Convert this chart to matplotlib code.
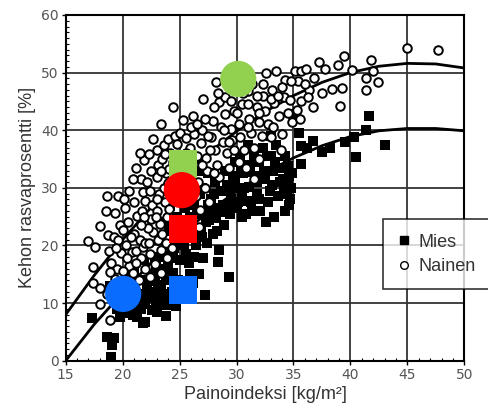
import numpy as np
import matplotlib.pyplot as plt
from matplotlib.lines import Line2D

# --- data ---
# naiset (avoimet ympyrät)
nainen_bmi = [17.0, 17.6, 17.4, 17.4, 18.0, 18.0, 18.6, 19.6, 18.5, 19.3, 18.0, 18.7, 19.2, 19.6, 18.9,
              19.0, 19.5, 19.3, 18.8, 19.9, 19.2, 18.6, 19.8, 19.4, 18.9,
              20.2, 20.5, 20.0, 20.3, 20.8, 20.6, 21.0, 21.3, 21.0, 21.5, 21.2, 20.9, 21.4, 21.8, 21.6,
              21.9, 21.7, 21.9, 21.6, 22.0, 21.8, 20.4, 21.1, 22.1, 22.0, 22.0,
              22.3, 22.5, 22.4, 22.6, 22.5, 22.7, 22.4, 22.8, 23.0, 23.1, 23.0, 23.2, 23.0, 23.3, 23.1,
              23.4, 23.6, 23.5, 23.8, 23.6, 23.7, 23.9, 23.5, 23.8, 23.4, 23.9, 24.0, 24.2, 24.1, 24.0,
              24.3, 24.1, 24.3, 24.4,
              24.6, 24.8, 25.0, 25.3, 26.2, 25.6, 25.9, 26.3, 26.5, 26.2, 26.6, 26.4, 26.8, 26.0, 26.9,
              27.0, 27.1, 27.3, 27.4, 27.2, 27.6, 27.8, 27.9, 28.2, 28.5, 28.1, 28.3, 28.6, 28.8, 28.5,
              29.0, 29.2, 29.3, 29.5, 29.0, 29.6, 29.8, 24.5, 24.7, 26.7,
              30.2, 30.3, 30.5, 30.7, 31.0, 31.1, 31.3, 31.5, 31.4, 31.8, 32.0, 32.2, 32.3, 32.6, 32.5,
              32.8, 33.1, 33.5, 33.0, 33.3, 33.7, 34.0, 34.3, 34.2, 34.5, 34.7, 33.9, 34.9, 30.8, 31.5, 32.0,
              35.1, 35.4, 35.7, 35.7, 36.1, 36.4, 36.7, 37.5, 37.2, 36.8, 37.8, 38.4, 38.9, 39.4, 39.1,
              39.3, 40.1, 41.4, 41.4, 42.0, 42.4, 41.8, 45.0, 47.7, 35.6, 36.3,
              20.1, 20.6, 20.9, 21.2, 21.5, 20.4, 20.7, 21.9, 22.2, 22.9, 22.3, 23.0, 23.4, 23.7, 24.4,
              24.6, 24.7, 26.0, 26.5, 27.2, 27.5, 28.0, 28.4, 28.9, 29.3, 29.5, 30.0, 30.6, 31.0, 31.8,
              32.3, 33.0, 33.6, 34.0, 34.8, 26.0, 27.0, 27.7, 28.0, 25.6, 29.8, 30.2, 31.0, 32.0, 33.2,
              35.3, 36.0, 22.7, 23.4, 20.0, 21.2, 22.4, 21.6]
nainen_rasva = [20.7, 19.8, 16.3, 13.5, 12.6, 9.8, 28.5, 28.5, 25.9, 25.6, 23.3, 21.8, 21.4, 20.9, 7.1,
                17.0, 16.0, 14.2, 19.0, 18.7, 11.0, 11.5, 23.5, 19.6, 15.4,
                26.5, 24.0, 22.6, 20.0, 18.8, 16.5, 27.5, 25.2, 22.0, 21.0, 19.0, 15.3, 14.0, 29.2, 31.5,
                34.8, 26.0, 23.7, 17.8, 16.0, 19.8, 13.7, 12.5, 31.0, 27.8, 20.5,
                35.8, 33.0, 29.5, 27.0, 24.6, 22.3, 18.5, 16.8, 36.6, 34.0, 31.8, 29.0, 26.0, 23.8, 21.0,
                19.2, 37.5, 35.0, 32.5, 30.0, 27.5, 25.0, 22.0, 20.4, 15.3, 17.8, 38.4, 36.0, 33.2, 30.8,
                28.2, 26.4, 19.6, 44.0,
                39.0, 37.6, 39.5, 41.8, 42.5, 38.6, 37.0, 39.4, 35.5, 33.0, 31.0, 28.6, 26.2, 24.8, 37.8,
                40.0, 45.5, 35.2, 33.0, 30.0, 27.6, 38.8, 41.6, 48.4, 44.9, 36.5, 34.0, 40.5, 38.0, 31.8,
                42.8, 36.0, 33.5, 40.2, 45.8, 38.3, 43.4, 24.0, 21.2, 23.2,
                41.0, 38.8, 44.5, 36.6, 46.8, 42.0, 39.5, 37.0, 48.0, 44.0, 41.5, 39.0, 46.0, 50.0, 43.3,
                41.0, 47.0, 50.2, 38.8, 44.8, 42.5, 39.3, 48.7, 45.8, 43.0, 45.3, 36.5, 41.5, 33.5, 31.6, 35.0,
                50.2, 48.5, 45.0, 50.2, 50.6, 47.0, 44.0, 46.4, 51.9, 49.0, 50.7, 47.1, 51.3, 52.9, 44.2,
                47.3, 50.5, 49.0, 47.0, 50.2, 48.4, 52.2, 54.2, 53.9, 42.0, 45.8,
                28.0, 29.5, 31.5, 33.5, 36.0, 17.8, 21.5, 25.0, 23.0, 25.0, 20.5, 28.0, 33.0, 35.8, 34.5,
                32.0, 30.0, 40.5, 41.0, 42.0, 39.0, 44.0, 46.5, 40.0, 38.0, 45.0, 43.0, 46.5, 44.5, 46.0,
                48.0, 45.5, 46.0, 47.5, 48.5, 35.0, 34.0, 36.5, 32.5, 36.0, 36.5, 34.5, 40.5, 43.0, 40.5,
                43.5, 48.0, 38.5, 41.0, 15.5, 17.0, 14.5, 23.5]

# miehet (mustat neliöt)
mies_bmi = [17.3, 18.6, 19.2, 19.0, 19.1, 18.9, 19.5, 20.2, 20.9, 21.8, 19.8, 20.5, 20.8, 19.6, 21.2, 21.0, 20.3,
            21.5, 21.7, 21.9, 22.0, 22.3, 22.5, 22.6, 22.8, 22.9, 23.0, 23.1, 23.2, 23.3, 23.5, 23.6, 23.7,
            23.8, 23.9, 24.0, 24.1, 24.2, 24.3, 24.4, 24.5,
            24.6, 24.8, 25.0, 25.2, 25.5, 25.6, 25.8, 25.9, 26.0, 26.1, 26.3, 26.4, 26.6, 26.7, 26.9, 27.0,
            27.2, 27.2, 27.4, 27.5, 27.6, 27.8, 27.9, 28.0, 28.1, 28.4, 28.5, 28.2, 28.6, 28.8, 29.3,
            29.0, 29.2, 29.4, 29.5, 29.7, 29.9, 30.0, 30.2, 30.3, 30.5, 30.6, 30.8, 31.0, 31.1, 31.3, 31.5,
            31.6, 31.8, 32.0, 32.1, 32.3, 32.5, 32.6, 32.8, 33.0, 33.2, 33.5, 33.8, 34.0, 34.3, 34.4, 34.5,
            34.6, 34.7, 34.5, 34.3, 33.0, 31.0,
            35.0, 35.5, 35.7, 35.7, 36.7, 37.5, 38.2, 40.3, 41.4, 41.6, 40.5, 43.0, 36.2, 39.5,
            21.3, 21.6, 22.0, 22.2, 22.4, 22.7, 22.9, 23.2, 23.4, 23.6, 23.8, 24.0, 24.2, 24.4, 24.6,
            24.0, 23.5, 22.8, 22.1, 24.7, 24.9, 21.4, 20.7, 20.0, 19.9,
            25.1, 25.4, 25.7, 25.9, 26.2, 26.5, 26.8, 27.0, 27.3, 27.5, 27.8, 28.0, 28.3, 28.6, 28.9,
            29.1, 29.4, 29.7, 29.9, 26.0, 25.8, 26.3, 27.1, 25.5, 26.2, 24.8, 25.3,
            30.1, 30.4, 30.7, 30.9, 31.2, 31.5, 31.8, 32.0, 32.4, 32.7, 33.1, 33.4, 33.6, 34.1, 34.6,
            34.8, 34.2, 34.9, 32.9, 33.3, 30.5, 31.4]
mies_rasva = [7.4, 4.2, 3.9, 0.6, 2.8, 13.0, 9.0, 8.2, 7.9, 6.6, 7.5, 10.5, 13.5, 12.2, 9.5, 16.0, 15.0,
              11.5, 14.0, 17.5, 9.8, 12.0, 15.0, 8.8, 18.0, 10.5, 8.5, 13.2, 21.0, 16.0, 11.5, 19.0, 24.0,
              14.0, 9.6, 17.0, 22.5, 26.8, 12.0, 15.2, 19.5,
              28.5, 25.0, 17.5, 31.0, 26.5, 18.5, 21.5, 15.0, 29.0, 24.0, 27.0, 20.0, 33.0, 15.1, 23.0, 30.0,
              11.4, 26.0, 20.5, 32.5, 24.5, 28.0, 22.0, 26.5, 31.0, 17.2, 19.2, 24.8, 29.5, 27.0, 14.6,
              33.0, 30.5, 25.5, 28.0, 32.0, 34.5, 26.5, 30.0, 35.5, 28.5, 32.5, 25.5, 34.0, 30.2, 27.5, 36.0,
              32.0, 29.0, 34.5, 26.0, 37.0, 31.5, 24.1, 27.5, 35.5, 33.0, 37.5, 31.0, 33.5, 26.0, 29.0, 30.5,
              32.0, 28.0, 33.8, 35.5, 39.0, 37.5,
              42.9, 39.6, 37.3, 34.1, 38.2, 36.2, 36.9, 38.8, 40.0, 42.4, 35.4, 37.4, 37.0, 38.0,
              7.5, 9.0, 6.8, 10.8, 13.8, 11.5, 16.5, 9.8, 12.8, 15.5, 7.8, 11.0, 14.2, 17.8, 20.8,
              20.0, 18.0, 14.5, 12.5, 9.5, 14.0, 10.2, 9.0, 10.0, 13.5,
              23.0, 20.0, 28.5, 25.0, 22.5, 25.5, 29.0, 21.5, 24.0, 27.0, 25.5, 29.0, 22.5, 25.8, 23.5,
              27.0, 29.8, 26.5, 31.0, 31.5, 17.0, 18.0, 17.8, 13.0, 13.5, 28.0, 33.0,
              27.5, 33.5, 30.0, 27.8, 32.8, 34.5, 31.0, 28.0, 33.0, 35.5, 30.5, 34.5, 28.5, 31.5, 27.0,
              30.0, 29.5, 32.5, 29.5, 25.0, 25.0, 26.0]

# sovitetut käyrät
kayra_bmi = [15, 17.5, 20, 22.5, 25, 27.5, 30, 32.5, 35, 37.5, 40, 42.5, 45, 47.5, 50]
kayra_nainen = [8.0, 14.8, 21.0, 26.6, 31.6, 36.0, 39.8, 43.2, 46.0, 48.3, 50.0, 51.1, 51.6, 51.5, 50.8]
kayra_mies = [0.0, 6.3, 11.8, 17.0, 21.6, 25.8, 29.4, 32.6, 35.2, 37.3, 38.9, 39.9, 40.3, 40.3, 39.9]

# korostetut pisteet
ympyra_x = [30.15, 25.2, 20.05]
ympyra_y = [48.9, 29.6, 11.6]
ympyra_varit = ['#92D050', '#FF0000', '#0A6CFF']
nelio_x = [25.3, 25.3, 25.3]
nelio_y = [34.2, 22.8, 12.3]
nelio_varit = ['#92D050', '#FF0000', '#0A6CFF']

fig = plt.figure(figsize=(4.88, 4.16), dpi=100)
ax = fig.add_axes([0.1346, 0.1329, 0.8168, 0.8311])

ax.grid(True, color='#333333', lw=1.3, zorder=0)
ax.set_axisbelow(True)

ax.plot(kayra_bmi, kayra_nainen, color='black', lw=2.0, zorder=2)
ax.plot(kayra_bmi, kayra_mies, color='black', lw=2.0, zorder=2)

ax.scatter(mies_bmi, mies_rasva, marker='s', s=46, color='black', lw=0, zorder=3)
ax.scatter(nainen_bmi, nainen_rasva, marker='o', s=38, facecolor='white', edgecolor='black',
           lw=1.4, zorder=4)

ax.scatter(nelio_x, nelio_y, marker='s', s=405, c=nelio_varit, lw=0, zorder=5)
ax.scatter(ympyra_x, ympyra_y, marker='o', s=680, c=ympyra_varit, lw=0, zorder=6)

ax.set_xlim(15, 50)
ax.set_ylim(0, 60)
ax.set_xticks(range(15, 51, 5))
ax.set_yticks(range(0, 61, 10))
ax.set_xticks(range(15, 51), minor=True)
ax.set_yticks(range(0, 61), minor=True)
ax.tick_params(which='major', direction='out', length=3, width=1, labelsize=10,
               labelcolor='#555555', pad=2)
ax.tick_params(which='minor', direction='in', length=2.5, width=0.8)
for s in ax.spines.values():
    s.set_linewidth(1.5)

ax.set_xlabel('Painoindeksi [kg/m²]', fontsize=13, family='Liberation Sans', color='#333333', labelpad=3)
ax.set_ylabel('Kehon rasvaprosentti [%]', fontsize=13, family='Liberation Sans', color='#333333', labelpad=4)

handles = [Line2D([], [], marker='s', ls='none', color='black', markersize=5.5),
           Line2D([], [], marker='o', ls='none', markerfacecolor='white', markeredgecolor='black',
                  markersize=5.5, markeredgewidth=1)]
leg = fig.legend(handles, ['Mies', 'Nainen'], loc='upper left', bbox_to_anchor=(0.784, 0.473),
                 borderaxespad=0, frameon=True, fancybox=False, edgecolor='black', handlelength=0.8,
                 handletextpad=0.4, borderpad=0.8, labelspacing=0.4,
                 prop={'family': 'Liberation Sans', 'size': 13})
leg.get_frame().set_linewidth(1.2)
for t in leg.get_texts():
    t.set_color('#333333')

fig.savefig('out.png', dpi=100)
